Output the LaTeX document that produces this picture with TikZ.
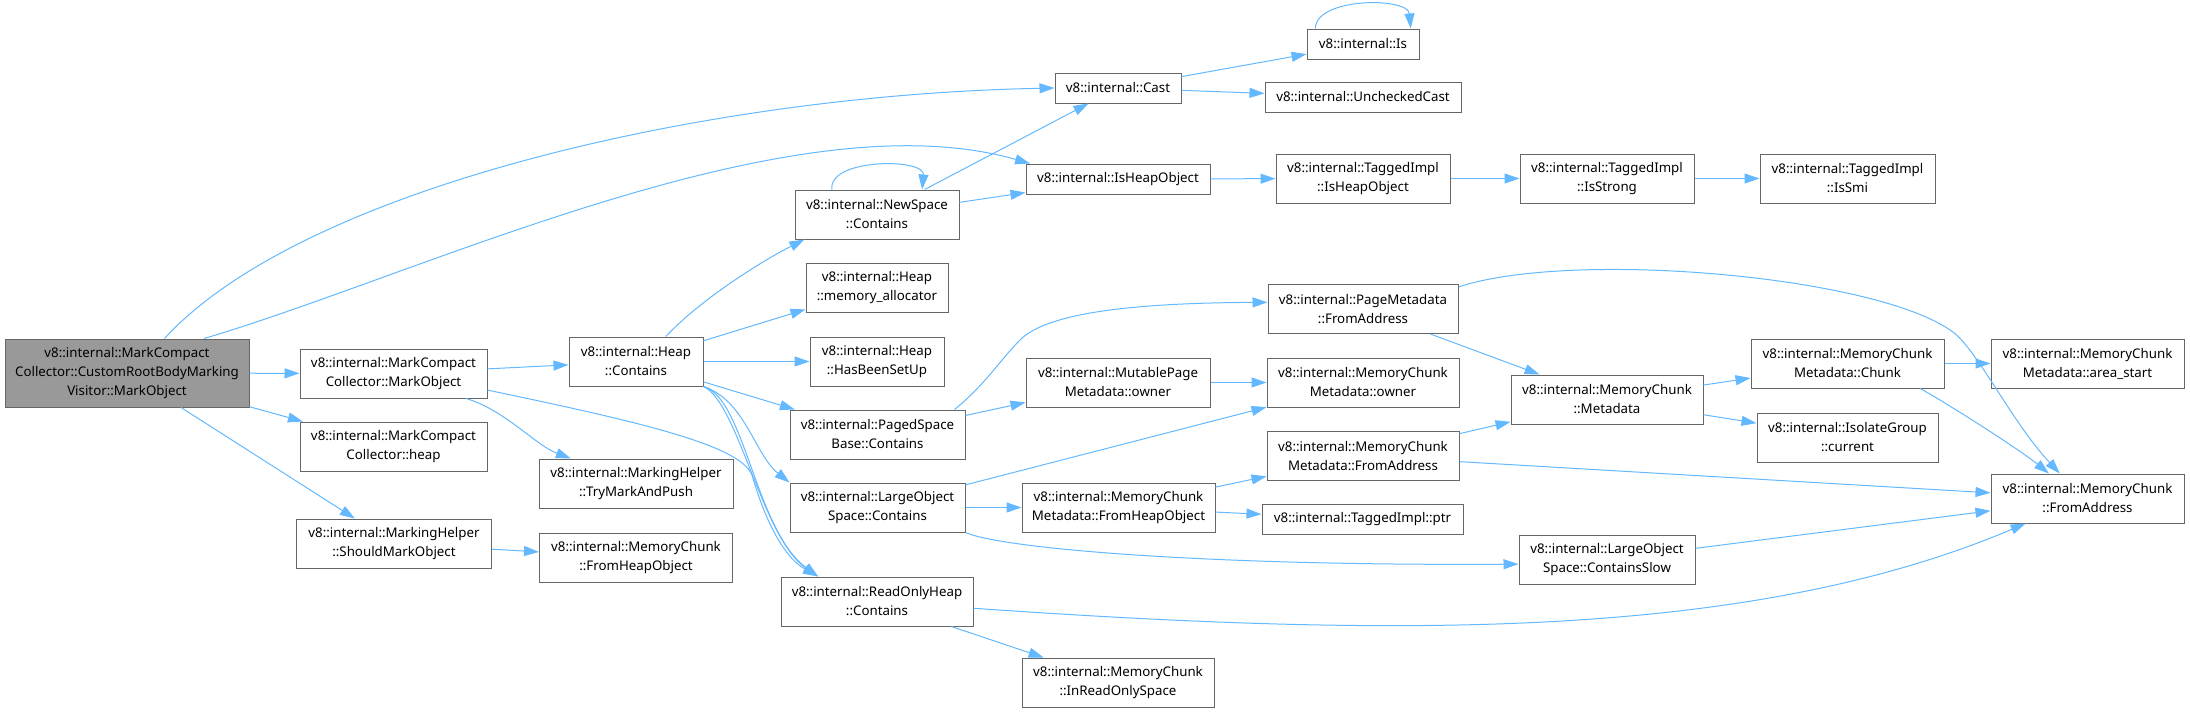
\documentclass[tikz,border=0pt]{standalone}
\usepackage{fontspec}
\setmainfont{Noto Sans}
\usetikzlibrary{arrows.meta}
\definecolor{edgeblue}{HTML}{63B8FF}
\definecolor{boxgrey}{HTML}{666666}
\definecolor{rootgrey}{HTML}{999999}

\begin{document}
\begin{tikzpicture}[x=1pt, y=-1pt,
    fn/.style={draw=boxgrey, fill=white, line width=1pt, align=center,
      inner sep=0pt, font=\fontsize{13.3}{19}\selectfont, minimum height=49pt},
    fnone/.style={fn, minimum height=30pt},
    call/.style={-{Triangle[length=15pt,width=10pt]}, edgeblue, line width=1pt}]
  \useasboundingbox (0,0) rectangle (2190,713);
  % root function
  \node[fn, fill=rootgrey, minimum width=244pt, minimum height=68pt] (root) at (127,373)
    {v8::internal::MarkCompact\\Collector::CustomRootBodyMarking\\Visitor::MarkObject};
  % rank 2
  \node[fn, minimum width=187pt] (markobj) at (393.5,373.5) {v8::internal::MarkCompact\\Collector::MarkObject};
  \node[fn, minimum width=187pt] (mcheap) at (393.5,446.5) {v8::internal::MarkCompact\\Collector::heap};
  \node[fn, minimum width=195pt] (shouldmark) at (394,543.5) {v8::internal::MarkingHelper\\::ShouldMarkObject};
  % rank 3
  \node[fn, minimum width=134pt] (heapcont) at (636,361.5) {v8::internal::Heap\\::Contains};
  \node[fn, minimum width=194pt] (trymark) at (636,483.5) {v8::internal::MarkingHelper\\::TryMarkAndPush};
  \node[fn, minimum width=193pt] (mcfromheap) at (636,557.5) {v8::internal::MemoryChunk\\::FromHeapObject};
  % rank 4
  \node[fn, minimum width=164pt] (newspace) at (877,214.5) {v8::internal::NewSpace\\::Contains};
  \node[fn, minimum width=142pt] (memalloc) at (877,287.5) {v8::internal::Heap\\::memory\_allocator};
  \node[fn, minimum width=134pt] (setup) at (877,361.5) {v8::internal::Heap\\::HasBeenSetUp};
  \node[fn, minimum width=175pt] (pagedspace) at (877.5,434.5) {v8::internal::PagedSpace\\Base::Contains};
  \node[fn, minimum width=175pt] (largeobj) at (877.5,507.5) {v8::internal::LargeObject\\Space::Contains};
  \node[fn, minimum width=192pt] (rohcont) at (877,601.5) {v8::internal::ReadOnlyHeap\\::Contains};
  % rank 5
  \node[fnone, minimum width=126pt] (cast) at (1118,88) {v8::internal::Cast};
  \node[fnone, minimum width=184pt] (isheapobj) at (1118,179) {v8::internal::IsHeapObject};
  \node[fn, minimum width=184pt] (mutowner) at (1118,382.5) {v8::internal::MutablePage\\Metadata::owner};
  \node[fn, minimum width=193pt] (mcmfromheap) at (1118.5,507.5) {v8::internal::MemoryChunk\\Metadata::FromHeapObject};
  \node[fn, minimum width=192pt] (inrospace) at (1118,682.5) {v8::internal::MemoryChunk\\::InReadOnlySpace};
  % rank 6
  \node[fnone, minimum width=112pt] (is) at (1363,44) {v8::internal::Is};
  \node[fnone, minimum width=196pt] (unchecked) at (1363,97) {v8::internal::UncheckedCast};
  \node[fn, minimum width=174pt] (tiheapobj) at (1363,178.5) {v8::internal::TaggedImpl\\::IsHeapObject};
  \node[fn, minimum width=190pt] (pmfromaddr) at (1363,309) {v8::internal::PageMetadata\\::FromAddress};
  \node[fn, minimum width=192pt] (mcmowner) at (1363,382.5) {v8::internal::MemoryChunk\\Metadata::owner};
  \node[fn, minimum width=192pt] (mcmfromaddr) at (1363,456) {v8::internal::MemoryChunk\\Metadata::FromAddress};
  \node[fnone, minimum width=201pt] (ptr) at (1362.5,519) {v8::internal::TaggedImpl::ptr};
  % rank 7
  \node[fn, minimum width=174pt] (isstrong) at (1607,178.5) {v8::internal::TaggedImpl\\::IsStrong};
  \node[fn, minimum width=192pt] (mcmeta) at (1607,399.5) {v8::internal::MemoryChunk\\::Metadata};
  \node[fn, minimum width=176pt] (containsslow) at (1607,559.5) {v8::internal::LargeObject\\Space::ContainsSlow};
  % rank 8
  \node[fn, minimum width=175pt] (issmi) at (1847.5,178.5) {v8::internal::TaggedImpl\\::IsSmi};
  \node[fn, minimum width=193pt] (chunk) at (1847.5,363.5) {v8::internal::MemoryChunk\\Metadata::Chunk};
  \node[fn, minimum width=181pt] (isogroup) at (1847.5,437.5) {v8::internal::IsolateGroup\\::current};
  % rank 9
  \node[fn, minimum width=193pt] (areastart) at (2087.5,363.5) {v8::internal::MemoryChunk\\Metadata::area\_start};
  \node[fn, minimum width=193pt] (mcfromaddr) at (2087.5,498.5) {v8::internal::MemoryChunk\\::FromAddress};

  % calls from the root
  \draw[call] (root) -- (markobj);
  \draw[call] (root) -- (mcheap);
  \draw[call] (root) -- (shouldmark);
  \draw[call] (root.north) ++(37.5,0) .. controls (300,190) and (700,95) .. (cast.west);
  \draw[call] (root.north) ++(77,0) .. controls (420,275) and (790,95) .. (isheapobj.170);
  % MarkObject
  \draw[call] (markobj) -- (heapcont);
  \draw[call] (markobj.-19) .. controls (505,410) and (535,445) .. (trymark.159);
  \draw[call] (markobj.-10) .. controls (640,422) and (740,445) .. (752,475)
    .. controls (762,510) and (780,555) .. (rohcont.157);
  \draw[call] (shouldmark) -- (mcfromheap);
  % Heap::Contains
  \draw[call] (heapcont.40) .. controls (700,300) and (760,262) .. (newspace.-161);
  \draw[call] (heapcont) -- (memalloc);
  \draw[call] (heapcont) -- (setup);
  \draw[call] (heapcont) -- (pagedspace);
  \draw[call] (heapcont.south east) .. controls (745,400) and (755,455) .. (largeobj.north west);
  \draw[call] (heapcont.south east) .. controls (745,398) and (755,530) .. (rohcont.157);
  \draw[call] (heapcont.south east) .. controls (738,402) and (762,538) .. (rohcont.157);
  % NewSpace::Contains
  \draw[call] (newspace.151) .. controls (828,158) and (925,158) .. (newspace.29);
  \draw[call] (newspace) -- (cast);
  \draw[call] (newspace) -- (isheapobj);
  % Cast and IsHeapObject
  \draw[call] (cast) -- (is);
  \draw[call] (cast) -- (unchecked);
  \draw[call] (is.162) .. controls (1316,-3) and (1408,-3) .. (is.18);
  \draw[call] (isheapobj) -- (tiheapobj);
  \draw[call] (tiheapobj) -- (isstrong);
  \draw[call] (isstrong) -- (issmi);
  % PagedSpaceBase::Contains
  \draw[call] (pagedspace.18) .. controls (985,385) and (1000,360) .. (1020,340)
    .. controls (1045,315) and (1120,303) .. (pmfromaddr.176);
  \draw[call] (pagedspace) -- (mutowner);
  \draw[call] (mutowner) -- (mcmowner);
  % PageMetadata::FromAddress
  \draw[call] (pmfromaddr) -- (mcmeta);
  \draw[call] (pmfromaddr.13) .. controls (1570,250) and (1870,275) .. (1950,330)
    .. controls (1975,345) and (2010,420) .. (mcfromaddr.138);
  % LargeObjectSpace::Contains
  \draw[call] (largeobj) -- (mcmowner);
  \draw[call] (largeobj) -- (mcmfromheap);
  \draw[call] (largeobj.south east) .. controls (1000,548) and (1200,566) .. (containsslow.-177);
  \draw[call] (mcmfromheap) -- (mcmfromaddr);
  \draw[call] (mcmfromheap) -- (ptr);
  % MemoryChunk metadata
  \draw[call] (mcmfromaddr) -- (mcmeta);
  \draw[call] (mcmfromaddr) -- (mcfromaddr);
  \draw[call] (mcmeta) -- (chunk);
  \draw[call] (mcmeta) -- (isogroup);
  \draw[call] (chunk) -- (areastart);
  \draw[call] (chunk.-19) .. controls (1950,405) and (2020,450) .. (mcfromaddr.147);
  \draw[call] (containsslow) -- (mcfromaddr);
  % ReadOnlyHeap::Contains
  \draw[call] (rohcont) -- (inrospace);
  \draw[call] (rohcont.-4) .. controls (1400,638) and (1750,640) .. (mcfromaddr.-158);
\end{tikzpicture}
\end{document}
